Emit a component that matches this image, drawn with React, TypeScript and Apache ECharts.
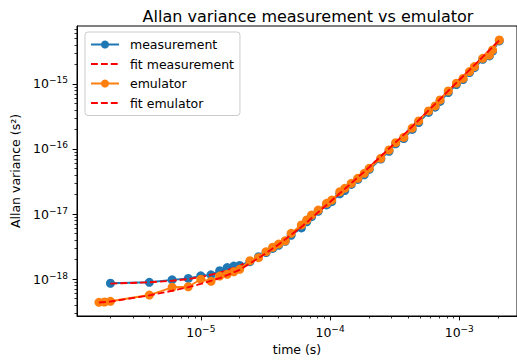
import React, { useEffect, useRef } from 'react';
import * as echarts from 'echarts';

// ---- data ----
const measTau = [
  2e-6, 4e-6, 6e-6, 8e-6, 1e-5, 1.2e-5, 1.4e-5, 1.6e-5, 1.8e-5, 2e-5,
  2.4e-5, 2.8e-5, 3.2e-5, 3.6e-5, 4e-5, 4.5e-5, 5e-5, 6e-5, 6.6e-5, 7.2e-5,
  8.1e-5, 9.4e-5, 1.03e-4, 1.19e-4, 1.3e-4, 1.46e-4, 1.64e-4, 1.84e-4, 2.01e-4, 2.47e-4,
  2.86e-4, 3.22e-4, 3.72e-4, 4.32e-4, 4.85e-4, 5.78e-4, 6.5e-4, 7.1e-4, 8.22e-4, 9.5e-4,
  1.07e-3, 1.2e-3, 1.31e-3, 1.52e-3, 1.71e-3, 1.81e-3, 2.04e-3,
];
const measVar = [
  8.6e-19, 8.9e-19, 9.7e-19, 1.02e-18, 1.12e-18, 1.16e-18, 1.34e-18, 1.5e-18, 1.58e-18, 1.62e-18,
  1.85e-18, 2.2e-18, 2.55e-18, 2.95e-18, 3.3e-18, 3.8e-18, 4.7e-18, 6.1e-18, 7.6e-18, 9.1e-18,
  1.1e-17, 1.38e-17, 1.55e-17, 2.05e-17, 2.3e-17, 2.85e-17, 3.4e-17, 4.0e-17, 4.85e-17, 7.0e-17,
  9.2e-17, 1.2e-16, 1.45e-16, 2.0e-16, 2.55e-16, 3.65e-16, 4.4e-16, 5.4e-16, 7.4e-16, 9.8e-16,
  1.17e-15, 1.5e-15, 1.78e-15, 2.4e-15, 2.7e-15, 3.2e-15, 4.6e-15,
];

const emuTau = [
  1.63e-6, 1.8e-6, 2e-6, 4e-6, 6e-6, 8e-6, 1e-5, 1.2e-5, 1.4e-5, 1.6e-5,
  1.8e-5, 2e-5, 2.4e-5, 2.8e-5, 3.2e-5, 3.6e-5, 4e-5, 4.5e-5, 5e-5, 6e-5,
  6.6e-5, 7.2e-5, 8.1e-5, 9.4e-5, 1.03e-4, 1.19e-4, 1.3e-4, 1.46e-4, 1.64e-4, 1.84e-4,
  2.01e-4, 2.47e-4, 2.86e-4, 3.22e-4, 3.72e-4, 4.32e-4, 4.85e-4, 5.78e-4, 6.5e-4, 7.1e-4,
  8.22e-4, 9.5e-4, 1.07e-3, 1.2e-3, 1.31e-3, 1.52e-3, 1.71e-3, 1.81e-3, 2.04e-3,
];
const emuVar = [
  4.38e-19, 4.43e-19, 4.54e-19, 5.67e-19, 7.45e-19, 7.6e-19, 9.9e-19, 9.2e-19, 1.11e-18, 1.18e-18,
  1.29e-18, 1.41e-18, 1.91e-18, 2.13e-18, 2.63e-18, 3.08e-18, 3.45e-18, 3.88e-18, 5.04e-18, 6.78e-18,
  8.09e-18, 9.66e-18, 1.15e-17, 1.46e-17, 1.64e-17, 2.2e-17, 2.48e-17, 2.96e-17, 3.54e-17, 4.23e-17,
  5.05e-17, 7.19e-17, 9.66e-17, 1.25e-16, 1.51e-16, 2.1e-16, 2.7e-16, 3.85e-16, 4.59e-16, 5.68e-16,
  7.8e-16, 1.03e-15, 1.22e-15, 1.55e-15, 1.85e-15, 2.48e-15, 2.79e-15, 3.34e-15, 4.75e-15,
];

const fitMeasTau = [2e-6, 4e-6, 6e-6, 8e-6, 1e-5, 1.4e-5, 2e-5, 3e-5, 4e-5, 6e-5, 1e-4, 2e-4, 4e-4, 7e-4, 1e-3, 1.5e-3, 2.04e-3];
const fitMeasVar = [8.5e-19, 8.9e-19, 9.4e-19, 1.0e-18, 1.07e-18, 1.25e-18, 1.6e-18, 2.5e-18, 3.5e-18, 6.4e-18, 1.55e-17, 5.2e-17, 1.9e-16, 5.7e-16, 1.15e-15, 2.55e-15, 4.7e-15];

const fitEmuTau = [1.63e-6, 2e-6, 4e-6, 6e-6, 8e-6, 1e-5, 1.4e-5, 2e-5, 3e-5, 4e-5, 6e-5, 1e-4, 2e-4, 4e-4, 7e-4, 1e-3, 1.5e-3, 2.04e-3];
const fitEmuVar = [4.35e-19, 4.5e-19, 5.6e-19, 6.6e-19, 7.5e-19, 8.4e-19, 1.03e-18, 1.38e-18, 2.3e-18, 3.4e-18, 6.3e-18, 1.53e-17, 5.2e-17, 1.9e-16, 5.7e-16, 1.15e-15, 2.55e-15, 4.7e-15];

const xMajorTicks = [1e-5, 1e-4, 1e-3];
const yMajorTicks = [1e-18, 1e-17, 1e-16, 1e-15];

const X_MIN = 1.102e-6;
const X_MAX = 2.796e-3;
const Y_MIN = 2.698e-19;
const Y_MAX = 7.8e-15;

function minorTicks(fromExp: number, toExp: number): number[] {
  const out: number[] = [];
  for (let e = fromExp; e <= toExp; e++) {
    for (let k = 2; k <= 9; k++) out.push(k * Math.pow(10, e));
  }
  return out;
}
const xMinorTicks = minorTicks(-7, -3);
const yMinorTicks = minorTicks(-20, -15);

const FONT = 'DejaVu Sans';

function sciLabel(v: number): string {
  const e = Math.round(Math.log10(v));
  return `{b|10}{e|${e < 0 ? '\u2212' : ''}${Math.abs(e)}}`;
}

const richLabel = {
  b: { fontSize: 12.5, fontFamily: FONT, color: '#000', lineHeight: 16 },
  e: { fontSize: 9, fontFamily: FONT, color: '#000', verticalAlign: 'top' as const, lineHeight: 10 },
};

const pair = (xs: number[], ys: number[]) => xs.map((x, i) => [x, ys[i]]);

export default function App() {
  const ref = useRef<HTMLDivElement>(null);
  useEffect(() => {
    if (!ref.current) return;
    const chart = echarts.init(ref.current, undefined, { renderer: 'svg' });
    const grid = { left: 77, top: 26, width: 446, height: 290, show: true, borderColor: '#000', borderWidth: 1, backgroundColor: '#fff' };
    const mainX = {
      type: 'log', min: X_MIN, max: X_MAX, position: 'bottom', gridIndex: 0,
      name: 'time (s)', nameLocation: 'middle', nameGap: 24,
      nameTextStyle: { fontSize: 12.5, fontFamily: FONT, color: '#000' },
      axisLine: { show: true, lineStyle: { color: '#000', width: 1 } },
      axisTick: { show: true, customValues: xMajorTicks, length: 4.4, lineStyle: { color: '#000', width: 1 } },
      axisLabel: { show: true, customValues: xMajorTicks, margin: 8, formatter: sciLabel, rich: richLabel },
      splitLine: { show: false },
      minorTick: { show: false },
    };
    const minorX = {
      type: 'log', min: X_MIN, max: X_MAX, position: 'bottom', gridIndex: 0,
      axisLine: { show: false },
      axisTick: { show: true, customValues: xMinorTicks, length: 2.5, lineStyle: { color: '#000', width: 0.8 } },
      axisLabel: { show: false },
      splitLine: { show: false },
    };
    const mainY = {
      type: 'log', min: Y_MIN, max: Y_MAX, position: 'left', gridIndex: 0,
      name: 'Allan variance (s\u00b2)', nameLocation: 'middle', nameGap: 47,
      nameTextStyle: { fontSize: 12.5, fontFamily: FONT, color: '#000' },
      axisLine: { show: true, lineStyle: { color: '#000', width: 1 } },
      axisTick: { show: true, customValues: yMajorTicks, length: 4.4, lineStyle: { color: '#000', width: 1 } },
      axisLabel: { show: true, customValues: yMajorTicks, margin: 9, formatter: sciLabel, rich: richLabel },
      splitLine: { show: false },
    };
    const minorY = {
      type: 'log', min: Y_MIN, max: Y_MAX, position: 'left', gridIndex: 0,
      axisLine: { show: false },
      axisTick: { show: true, customValues: yMinorTicks, length: 2.5, lineStyle: { color: '#000', width: 0.8 } },
      axisLabel: { show: false },
      splitLine: { show: false },
    };
    const dash = [6.9, 3];
    chart.setOption({
      animation: false,
      backgroundColor: '#fff',
      textStyle: { fontFamily: FONT },
      title: {
        text: 'Allan variance measurement vs emulator',
        left: 303, top: 3, textAlign: 'center',
        textStyle: { fontSize: 16, fontWeight: 'normal', fontFamily: FONT, color: '#000' },
      },
      grid,
      xAxis: [mainX, minorX],
      yAxis: [mainY, minorY],
      legend: {
        orient: 'vertical', left: 85, top: 32, z: 10,
        itemWidth: 28, itemHeight: 10, itemGap: 4.5,
        padding: [5, 6, 5, 5],
        backgroundColor: 'rgba(255,255,255,0.8)', borderColor: '#cccccc', borderWidth: 1, borderRadius: 3,
        textStyle: { fontSize: 12.5, fontFamily: FONT, color: '#000', lineHeight: 15, padding: [0, 0, 0, 6] },
        data: ['measurement', 'fit measurement', 'emulator', 'fit emulator'],
      },
      series: [
        {
          name: 'measurement', type: 'line', xAxisIndex: 0, yAxisIndex: 0, z: 2,
          data: pair(measTau, measVar), symbol: 'circle', symbolSize: 9, showSymbol: true,
          itemStyle: { color: '#1f77b4' }, lineStyle: { color: '#1f77b4', width: 1.9 },
        },
        {
          name: 'fit measurement', type: 'line', xAxisIndex: 0, yAxisIndex: 0, z: 3,
          data: pair(fitMeasTau, fitMeasVar), symbol: 'none',
          itemStyle: { color: '#ff0000', opacity: 0 }, lineStyle: { color: '#ff0000', width: 1.9, type: dash, opacity: 1 },
        },
        {
          name: 'emulator', type: 'line', xAxisIndex: 0, yAxisIndex: 0, z: 4,
          data: pair(emuTau, emuVar), symbol: 'circle', symbolSize: 9, showSymbol: true,
          itemStyle: { color: '#ff7f0e' }, lineStyle: { color: '#ff7f0e', width: 1.9 },
        },
        {
          name: 'fit emulator', type: 'line', xAxisIndex: 0, yAxisIndex: 0, z: 5,
          data: pair(fitEmuTau, fitEmuVar), symbol: 'none',
          itemStyle: { color: '#ff0000', opacity: 0 }, lineStyle: { color: '#ff0000', width: 1.9, type: dash, opacity: 1 },
        },
      ],
    });
    return () => chart.dispose();
  }, []);
  return <div ref={ref} style={{ position: 'fixed', left: 0, top: 0, width: 517, height: 363 }} />;
}
